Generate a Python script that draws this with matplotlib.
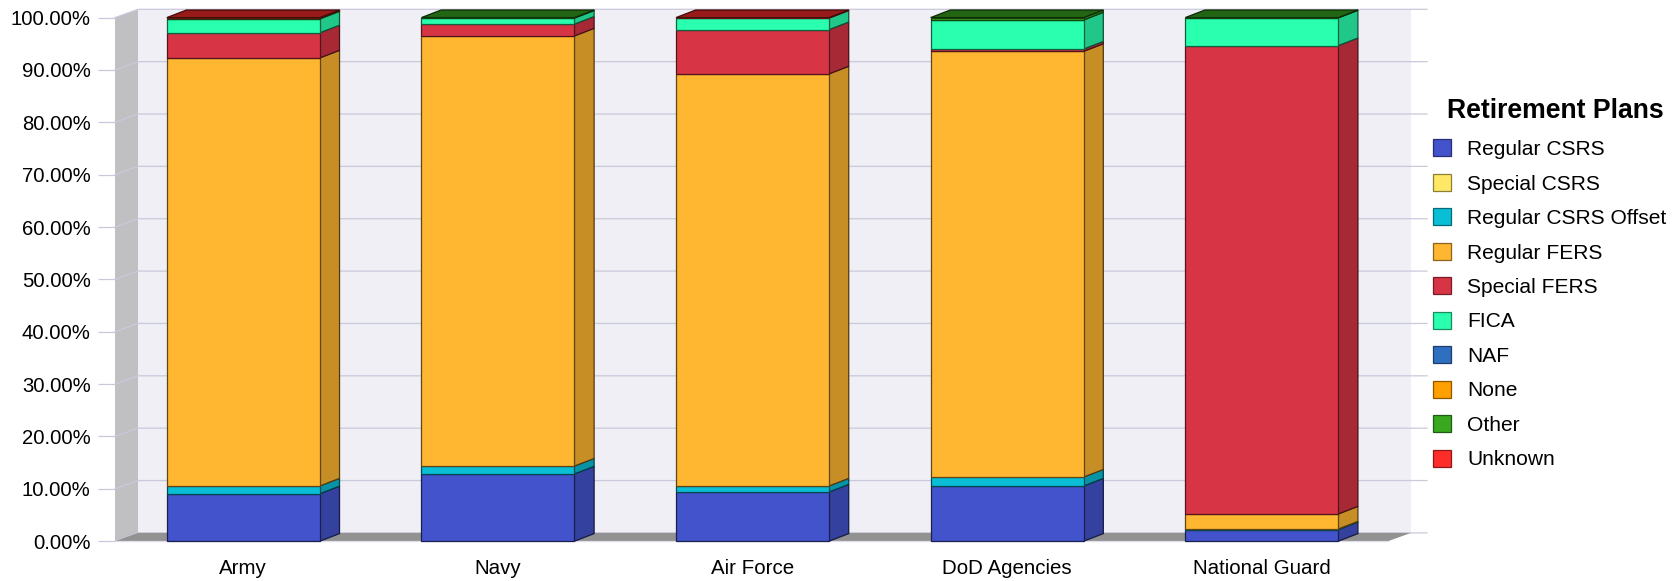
import matplotlib
matplotlib.use("Agg")
import matplotlib.pyplot as plt
from matplotlib.patches import Polygon, Patch
from matplotlib.ticker import FuncFormatter
import matplotlib.colors as mc
import numpy as np

plt.rcParams['font.family'] = ['Liberation Sans', 'DejaVu Sans']

categories = ["Army", "Navy", "Air Force", "DoD Agencies", "National Guard"]
regular_csrs = [9.07, 12.85, 9.40, 10.55, 2.20]
special_csrs = [0.0, 0.0, 0.0, 0.0, 0.0]
regular_csrs_offset = [1.48, 1.50, 1.15, 1.70, 0.13]
regular_fers = [81.75, 82.15, 78.70, 81.30, 2.87]
special_fers = [4.80, 2.25, 8.45, 0.45, 89.45]
fica = [2.65, 1.15, 2.20, 5.55, 5.30]
naf = [0.0, 0.0, 0.0, 0.0, 0.0]
none_plan = [0.0, 0.0, 0.0, 0.0, 0.0]
other = [0.15, 0.10, 0.0, 0.45, 0.05]
unknown = [0.10, 0.0, 0.10, 0.0, 0.0]

series = [
    ("Regular CSRS", regular_csrs, "#4353cb"),
    ("Special CSRS", special_csrs, "#ffe866"),
    ("Regular CSRS Offset", regular_csrs_offset, "#0abed6"),
    ("Regular FERS", regular_fers, "#ffb631"),
    ("Special FERS", special_fers, "#d73545"),
    ("FICA", fica, "#29ffae"),
    ("NAF", naf, "#2f6fbf"),
    ("None", none_plan, "#ff9f00"),
    ("Other", other, "#38a81e"),
    ("Unknown", unknown, "#ff2d2a"),
]

W, H = 1679, 581
L, R, T, B = 115.0, 1388.0, 17.6, 541.2
GRID = "#c9c9dc"


def shade(c, f):
    r = np.array(mc.to_rgb(c)) * f
    return tuple(r)


fig = plt.figure(figsize=(W / 100, H / 100), dpi=100, facecolor="white")
ax = fig.add_axes([L / W, 1 - B / H, (R - L) / W, (B - T) / H])
ax.set_facecolor("none")
ax.set_xlim(-0.504, 4.496)
ax.set_ylim(0, 100)

# depth of the pseudo-3D frame and of the bars, in data units
px_x = 5.0 / (R - L)
px_y = 100.0 / (B - T)
wall_dx, wall_dy = 23 * px_x, 8.3 * px_y
bar_dx, bar_dy = 19.7 * px_x, 7.6 * px_y
bar_w = 153.0 * px_x
xmin, xmax = ax.get_xlim()
grid_end = xmin + (1427 - L) * px_x
yticks = np.arange(0, 101, 10)

# back wall, side wall and floor
ax.add_patch(Polygon([(xmin + wall_dx, wall_dy), (xmax + wall_dx, wall_dy),
                      (xmax + wall_dx, 100 + wall_dy), (xmin + wall_dx, 100 + wall_dy)],
                     closed=True, fc="#efeff5", ec="none", clip_on=False, zorder=0))
ax.add_patch(Polygon([(xmin, 0), (xmin + wall_dx, wall_dy), (xmin + wall_dx, 100 + wall_dy), (xmin, 100)],
                     closed=True, fc="#c0c0c2", ec="none", clip_on=False, zorder=1))
for v in yticks:
    ax.plot([xmin, xmin + wall_dx, grid_end], [v, v + wall_dy, v + wall_dy],
            color=GRID, lw=0.9, clip_on=False, zorder=1.5)
ax.add_patch(Polygon([(xmin, 0), (xmax, 0), (xmax + wall_dx, wall_dy), (xmin + wall_dx, wall_dy)],
                     closed=True, fc="#929292", ec="none", clip_on=False, zorder=2))

# stacked bars
x = np.arange(len(categories))
bottom = np.zeros(len(categories))
tops = [None] * len(categories)
for name, vals, col in series:
    vals = np.array(vals, dtype=float)
    for i, v in enumerate(vals):
        if v <= 0:
            continue
        ax.bar(x[i], v, bar_w, bottom=bottom[i], color=col,
               edgecolor=shade(col, 0.38), linewidth=0.9, zorder=4, clip_on=False)
        xr = x[i] + bar_w / 2
        b, t = bottom[i], bottom[i] + v
        ax.add_patch(Polygon([(xr, b), (xr + bar_dx, b + bar_dy), (xr + bar_dx, t + bar_dy), (xr, t)],
                             closed=True, fc=shade(col, 0.78), ec=shade(col, 0.32), lw=0.9,
                             clip_on=False, zorder=3))
        tops[i] = col
    bottom += vals

for i, col in enumerate(tops):
    xl, xr = x[i] - bar_w / 2, x[i] + bar_w / 2
    t = bottom[i]
    ax.add_patch(Polygon([(xl, t), (xr, t), (xr + bar_dx, t + bar_dy), (xl + bar_dx, t + bar_dy)],
                         closed=True, fc=shade(col, 0.6), ec=shade(col, 0.25), lw=0.9,
                         clip_on=False, zorder=3.5))

# axes furniture
for s in ("top", "right", "left"):
    ax.spines[s].set_visible(False)
ax.spines["bottom"].set_color("#dedee8")
ax.spines["bottom"].set_linewidth(0.9)
ax.set_xticks(x)
ax.set_xticklabels(categories)
ax.set_yticks(yticks)
ax.yaxis.set_major_formatter(FuncFormatter(lambda v, p: f"{v:.2f}%"))
ax.tick_params(axis="x", length=0, pad=12.6, labelsize=14.8, colors="black")
ax.tick_params(axis="y", length=12.2, width=0.9, color=GRID, pad=5.4, labelsize=14.6, labelcolor="black")

# legend
handles = [Patch(facecolor=c, edgecolor=shade(c, 0.55), linewidth=0.9, label=n) for n, _, c in series]
leg = fig.legend(handles=handles, title="Retirement Plans", loc="upper left",
                 bbox_to_anchor=(1433 / W, 1 - 98.3 / H), bbox_transform=fig.transFigure,
                 frameon=False, fontsize=15.1, borderpad=0, borderaxespad=0,
                 handlelength=0.86, handleheight=0.86, handletextpad=0.78, labelspacing=0.705,
                 title_fontproperties={"weight": "bold", "size": 19.2, "family": "Liberation Sans"})
leg._legend_box.sep = 10.9
leg.get_title().set_color("black")
leg.get_title().set_position((6, 0))

fig.savefig("out.png", dpi=100, facecolor="white")
